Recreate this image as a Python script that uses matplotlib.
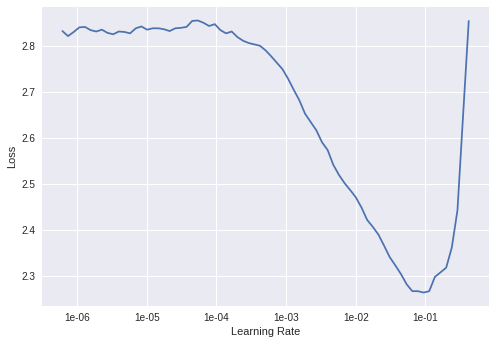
import numpy as np
import matplotlib
matplotlib.use('Agg')
import matplotlib.pyplot as plt
from matplotlib.ticker import FormatStrFormatter, NullFormatter

# exponentes log10 de la tasa de aprendizaje
log_lr = [-6.211, -6.130, -6.049, -5.968, -5.887, -5.806, -5.725, -5.644, -5.563, -5.482,
          -5.401, -5.320, -5.239, -5.158, -5.077, -4.996, -4.915, -4.834, -4.753, -4.672,
          -4.591, -4.510, -4.429, -4.348, -4.267, -4.186, -4.105, -4.024, -3.943, -3.862,
          -3.781, -3.700, -3.619, -3.538, -3.457, -3.376, -3.295, -3.214, -3.133, -3.052,
          -2.971, -2.890, -2.809, -2.728, -2.647, -2.566, -2.485, -2.404, -2.323, -2.242,
          -2.161, -2.080, -1.999, -1.918, -1.837, -1.756, -1.675, -1.594, -1.513, -1.432,
          -1.351, -1.270, -1.189, -1.108, -1.027, -0.946, -0.865, -0.784, -0.703, -0.622,
          -0.541, -0.460, -0.379]

loss = [2.833, 2.822, 2.831, 2.841, 2.842, 2.835, 2.832, 2.836, 2.829, 2.826,
        2.832, 2.831, 2.828, 2.839, 2.843, 2.836, 2.839, 2.839, 2.837, 2.833,
        2.839, 2.840, 2.842, 2.855, 2.856, 2.851, 2.844, 2.848, 2.835, 2.828,
        2.832, 2.820, 2.812, 2.807, 2.804, 2.801, 2.791, 2.778, 2.764, 2.750,
        2.729, 2.705, 2.682, 2.653, 2.635, 2.617, 2.591, 2.574, 2.542, 2.520,
        2.502, 2.487, 2.471, 2.449, 2.422, 2.407, 2.390, 2.366, 2.341, 2.323,
        2.304, 2.282, 2.267, 2.267, 2.264, 2.267, 2.298, 2.308, 2.318, 2.362,
        2.443, 2.650, 2.855]

lr = 10 ** np.array(log_lr)

plt.style.use('seaborn-v0_8')
plt.rcParams['font.family'] = ['Liberation Sans', 'DejaVu Sans']

fig, ax = plt.subplots(figsize=(495 / 72, 344 / 72), dpi=72)
fig.subplots_adjust(left=0.085, right=0.988, top=0.98, bottom=0.11)

ax.plot(lr, loss, color='#4C72B0', linewidth=1.75)
ax.set_xscale('log')
ax.xaxis.set_major_formatter(FormatStrFormatter('%.0e'))
ax.xaxis.set_minor_formatter(NullFormatter())
ax.set_xlabel('Learning Rate')
ax.set_ylabel('Loss')

fig.savefig('out.png', dpi=72)
